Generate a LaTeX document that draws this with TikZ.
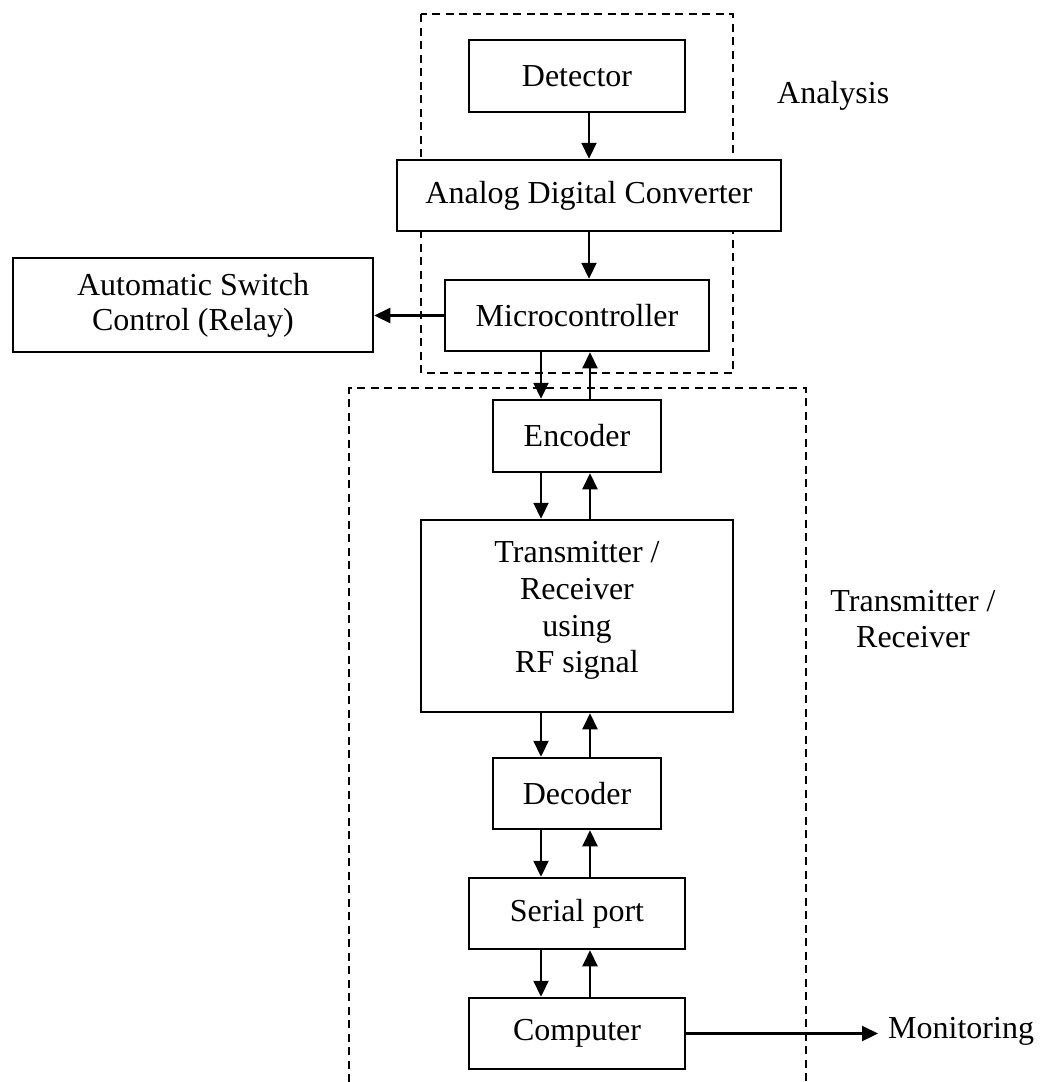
\documentclass[tikz,border=0pt]{standalone}
\usepackage{fontspec}
\setmainfont{Liberation Serif}
\usetikzlibrary{arrows.meta}
\begin{document}
\begin{tikzpicture}[x=1pt,y=-1pt,
  blk/.style={draw, line width=2.5pt, rectangle, inner sep=0pt, align=center,
    font=\fontsize{32}{36.7}\selectfont},
  lbl/.style={inner sep=0pt, align=center, font=\fontsize{32}{35.5}\selectfont},
  arr/.style={line width=2.2pt, -{Triangle[length=16pt,width=15pt]}},
  grp/.style={line width=2pt, dash pattern=on 8pt off 5.5pt}]
\useasboundingbox (0,0) rectangle (1042,1082);
% groups
\draw[grp] (421,14) rectangle (733,373);
\draw[grp] (349,1082) -- (349,388) -- (806,388) -- (806,1082);
% blocks
\node[blk, minimum width=216, minimum height=72] (det) at (577,76) {Detector};
\node[blk, fill=white, minimum width=384, minimum height=71] (adc) at (589,195.5) {Analog Digital Converter};
\node[blk, minimum width=264, minimum height=71] (mcu) at (577,315.5) {Microcontroller};
\node[blk, font=\fontsize{32}{35}\selectfont, minimum width=360, minimum height=94] (rel) at (193,305) {Automatic Switch\\Control (Relay)};
\node[blk, minimum width=168, minimum height=72] (enc) at (577,436) {Encoder};
\node[blk, minimum width=312, minimum height=192] (trx) at (577,616) {\raisebox{0pt}{}\\[-26pt]Transmitter /\\Receiver\\using\\RF signal};
\node[blk, minimum width=168, minimum height=71] (dec) at (577,793.5) {Decoder};
\node[blk, minimum width=216, minimum height=71] (ser) at (577,913.5) {Serial port};
\node[blk, minimum width=216, minimum height=71] (com) at (577,1033.5) {Computer};
% labels
\node[lbl, anchor=base west] (ana) at (777,103) {Analysis};
\node[lbl] (trl) at (913,619) {Transmitter /\\Receiver};
\node[lbl, anchor=base west, inner xsep=10pt] (mon) at (878,1038) {Monitoring};
% lanes
\coordinate (dn) at (541,0);
\coordinate (up) at (590,0);
\coordinate (mid) at (589,0);
% connectors
\draw[arr] (det.south -| mid) -- (adc.north -| mid);
\draw[arr] (adc.south -| mid) -- (mcu.north -| mid);
\draw[arr] (mcu.west) -- (rel.east |- mcu.west);
\draw[arr] (mcu.south -| dn) -- (enc.north -| dn);
\draw[arr] (enc.north -| up) -- (mcu.south -| up);
\draw[arr] (enc.south -| dn) -- (trx.north -| dn);
\draw[arr] (trx.north -| up) -- (enc.south -| up);
\draw[arr] (trx.south -| dn) -- (dec.north -| dn);
\draw[arr] (dec.north -| up) -- (trx.south -| up);
\draw[arr] (dec.south -| dn) -- (ser.north -| dn);
\draw[arr] (ser.north -| up) -- (dec.south -| up);
\draw[arr] (ser.south -| dn) -- (com.north -| dn);
\draw[arr] (com.north -| up) -- (ser.south -| up);
\draw[arr] (com.east) -- (mon.west |- com.east);
\end{tikzpicture}
\end{document}
